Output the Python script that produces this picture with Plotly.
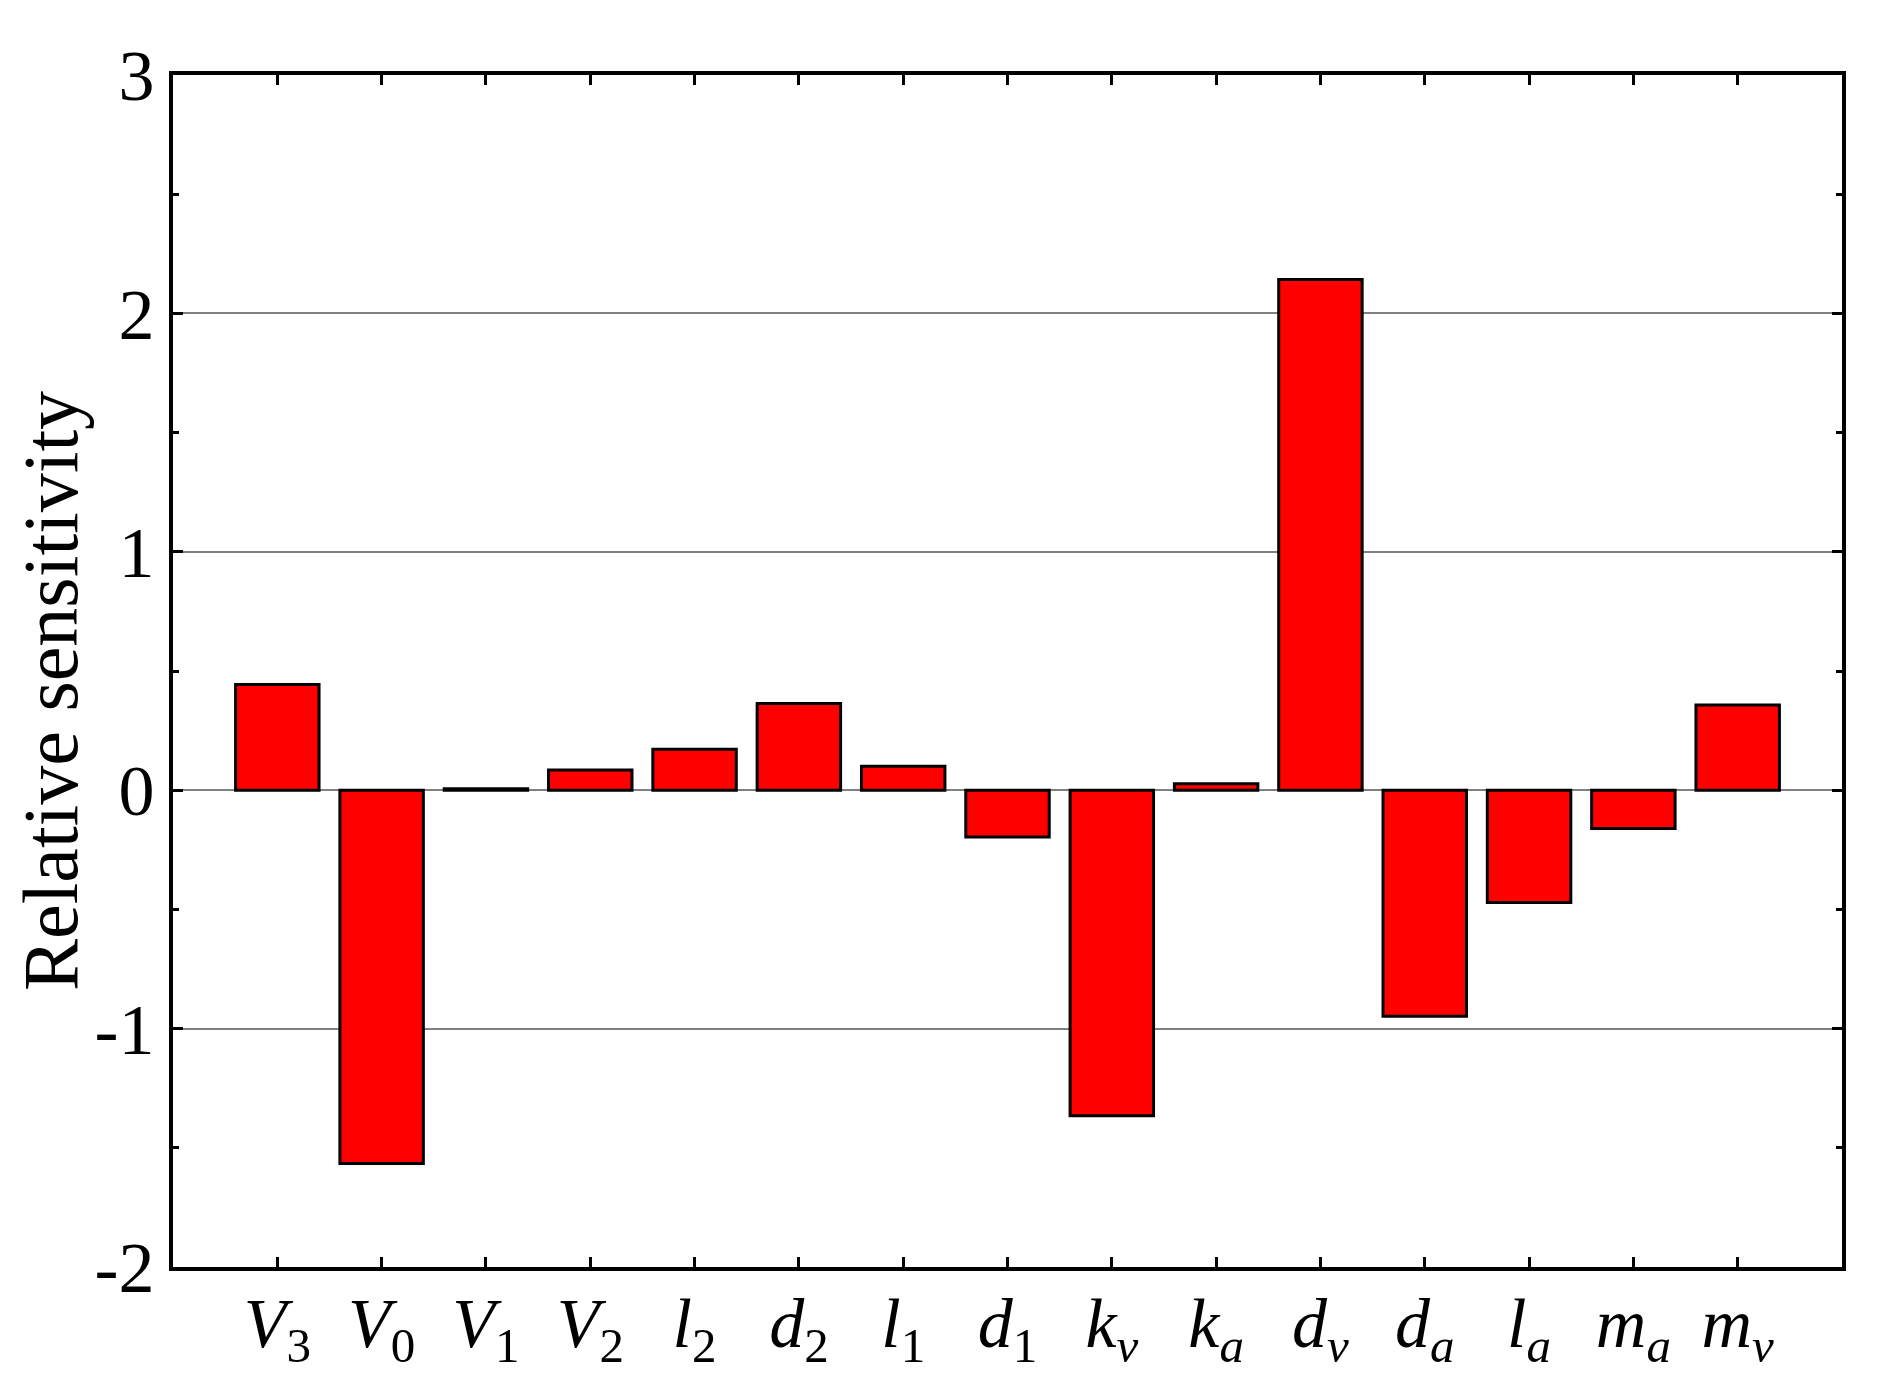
import plotly.graph_objects as go

categories = ["V3", "V0", "V1", "V2", "l2", "d2", "l1", "d1", "kv", "ka", "dv", "da", "la", "ma", "mv"]
tick_labels = [
    "<i>V</i><sub>3</sub>", "<i>V</i><sub>0</sub>", "<i>V</i><sub>1</sub>", "<i>V</i><sub>2</sub>",
    "<i>l</i><sub>2</sub>", "<i>d</i><sub>2</sub>", "<i>l</i><sub>1</sub>", "<i>d</i><sub>1</sub>",
    "<i>k</i><sub><i>v</i></sub>", "<i>k</i><sub><i>a</i></sub>", "<i>d</i><sub><i>v</i></sub>",
    "<i>d</i><sub><i>a</i></sub>", "<i>l</i><sub><i>a</i></sub>", "<i>m</i><sub><i>a</i></sub>",
    "<i>m</i><sub><i>v</i></sub>",
]
sensitivity = [0.443, -1.566, 0.006, 0.085, 0.172, 0.364, 0.100, -0.196, -1.366, 0.027,
               2.142, -0.948, -0.471, -0.161, 0.357]
y_ticks = [-2, -1, 0, 1, 2, 3]
y_title = "Relative sensitivity"

FONT = "Liberation Serif, Times New Roman, serif"

fig = go.Figure()
fig.add_trace(go.Bar(
    x=categories,
    y=sensitivity,
    width=0.8,
    marker=dict(color="#ff0000", line=dict(color="black", width=3)),
))

# page body has an 8px default margin; figure sized to fit the window without scrollbars
fig.update_layout(
    width=1866, height=1378,
    paper_bgcolor="white", plot_bgcolor="white",
    margin=dict(l=165, r=32, t=67, b=119),
    showlegend=False,
    font=dict(family=FONT, color="black"),
    bargap=0.2,
    annotations=[dict(
        text=y_title, textangle=-90,
        xref="paper", yref="paper", x=-0.0737, y=0.4832,
        xanchor="center", yanchor="middle", showarrow=False,
        font=dict(family=FONT, size=78, color="black"),
    )],
)

fig.update_xaxes(
    type="category",
    range=[-1, 15],
    tickmode="array",
    tickvals=categories,
    ticktext=tick_labels,
    tickfont=dict(family=FONT, size=70),
    ticks="inside", ticklen=10, tickwidth=3, tickcolor="black",
    showline=True, linewidth=4, linecolor="black", mirror="allticks",
    showgrid=False, zeroline=False,
    ticklabelstandoff=-8,
)

fig.update_yaxes(
    range=[-2, 3],
    tickmode="array",
    tickvals=y_ticks,
    ticktext=[str(v) for v in y_ticks],
    tickfont=dict(family=FONT, size=72),
    ticks="inside", ticklen=10, tickwidth=3, tickcolor="black",
    showline=True, linewidth=4, linecolor="black", mirror="allticks",
    showgrid=True, gridcolor="#808080", gridwidth=1.5,
    zeroline=True, zerolinecolor="#808080", zerolinewidth=1.5,
    minor=dict(dtick=0.5, tick0=0, ticks="inside", ticklen=6, tickwidth=3, tickcolor="black", showgrid=False),
    automargin=False,
)

fig.write_html("out.html")
